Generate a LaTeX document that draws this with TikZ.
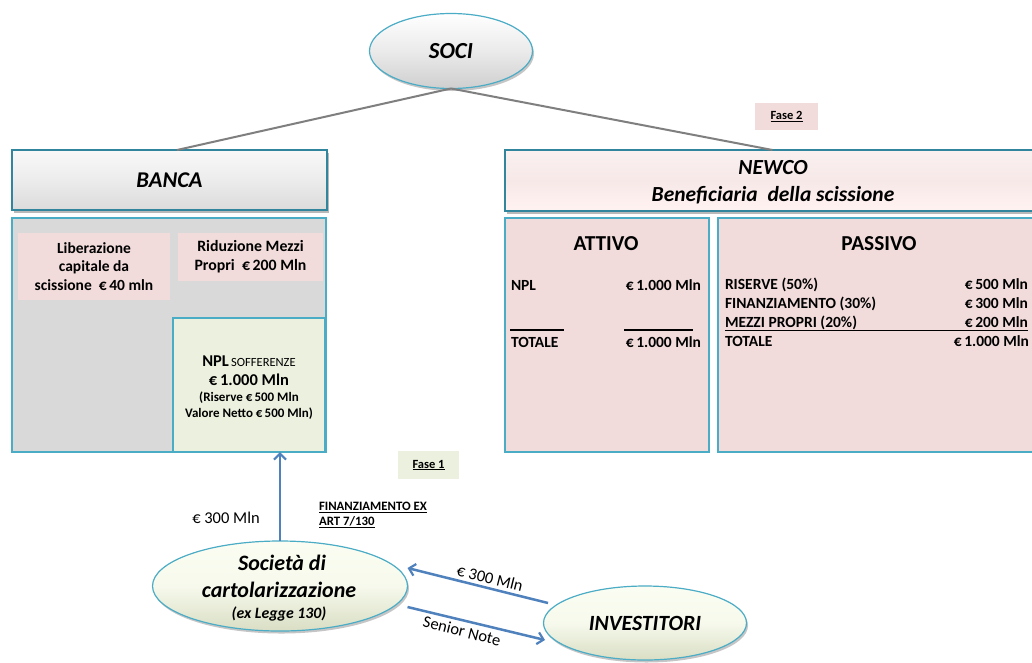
\documentclass[tikz,border=0pt]{standalone}
\usepackage{fontspec}
\setmainfont{Carlito}
\usetikzlibrary{shapes.geometric,shadows,arrows.meta}
\definecolor{teal}{HTML}{4BACC6}
\definecolor{tealdark}{HTML}{31859C}
\definecolor{graybox}{HTML}{D9D9D9}
\definecolor{pinkbox}{HTML}{F2DCDB}
\definecolor{greenbox}{HTML}{EBF1DE}
\definecolor{creamlight}{HTML}{FBFDF2}
\definecolor{creamdark}{HTML}{D9DEC4}
\definecolor{linkgray}{HTML}{7F7F7F}
\definecolor{arrowblue}{HTML}{4F81BD}
\begin{document}
\begin{tikzpicture}[x=1pt,y=-1pt,
  every node/.style={inner sep=0pt,outer sep=0pt},
  header/.style={draw=tealdark,line width=1.2pt,anchor=north west,
    drop shadow={shadow xshift=2pt,shadow yshift=-2.5pt,opacity=0.55}},
  panel/.style={draw=teal,line width=1.2pt,anchor=north west},
  tile/.style={anchor=north west,align=center},
  oval/.style={ellipse,draw=teal,line width=1.2pt,
    drop shadow={shadow xshift=1.5pt,shadow yshift=-2.5pt,opacity=0.45}},
  creamoval/.style={oval,top color=creamlight,bottom color=creamdark,middle color=creamlight!70!greenbox},
  soclink/.style={draw=linkgray,line width=2pt},
  flow/.style={draw=arrowblue,line width=2.5pt,-{Straight Barb[length=6pt,width=12pt,line width=2.2pt]}},
  flowlabel/.style={font=\fontsize{16.5}{19}\selectfont},
  rowtxt/.style={font=\bfseries\fontsize{15.5}{18}\selectfont},
  bi/.style={font=\bfseries\itshape\fontsize{#1}{#1}\selectfont},
  fase/.style={anchor=north west,font=\bfseries\fontsize{12.5}{14}\selectfont}]
\path[use as bounding box,clip] (0,0) rectangle (1032,662);
\fill[white] (0,0) rectangle (1032,662);

% SOCI
\node[oval,minimum width=163pt,minimum height=75pt,
  top color=white,bottom color=gray!38,middle color=gray!16,bi=23] (soci) at (451,51) {SOCI};

% Headers
\node[header,minimum width=315pt,minimum height=60pt,
  top color=white!95!gray,bottom color=gray!28,middle color=gray!15,bi=22.5] (banca) at (12,150) {BANCA};
\node[header,minimum width=535pt,minimum height=61pt,
  top color=pinkbox!40,bottom color=pinkbox!110!black!95,middle color=pinkbox!65] (newco) at (505,150) {};
\node[anchor=base,bi=21.5] (newco1) at (773,174) {NEWCO};
\node[anchor=base,bi=21.5] (newco2) at (773,201) {Beneficiaria\ \ della scissione};

% Links from SOCI
\draw[soclink] (soci.south) -- ([xshift=7.5pt]banca.north);
\draw[soclink] (soci.south) -- (newco.north);

% BANCA panel
\node[panel,fill=graybox,minimum width=314pt,minimum height=234pt] (bancapanel) at (12,218) {};
\node[tile,fill=pinkbox,minimum width=152pt,minimum height=67pt,
  font=\bfseries\fontsize{15.5}{18.5}\selectfont] (liber) at (18,233)
  {Liberazione\\capitale da\\scissione\ \ €\,40 mln};
\node[tile,fill=pinkbox,minimum width=145pt,minimum height=48pt,
  font=\bfseries\fontsize{15.8}{19}\selectfont] (ridu) at (178,233)
  {Riduzione Mezzi\\Propri\ \ €\,200 Mln};
\node[panel,fill=greenbox,minimum width=152pt,minimum height=134pt] (npl) at (173,318) {};
\node[anchor=base] (npl1) at (249,366)
  {{\bfseries\fontsize{16.5}{18}\selectfont NPL} {\fontsize{12.5}{14}\selectfont SOFFERENZE}};
\node[anchor=base,font=\bfseries\fontsize{16.5}{18}\selectfont] (npl2) at (249,385) {€\,1.000 Mln};
\node[anchor=base,font=\bfseries\fontsize{13}{15}\selectfont] (npl3) at (249,401) {(Riserve €\,500 Mln};
\node[anchor=base,font=\bfseries\fontsize{13}{15}\selectfont] (npl4) at (249,417) {Valore Netto €\,500 Mln)};

% NEWCO panels
\node[panel,fill=pinkbox,minimum width=204pt,minimum height=234pt] (attivo) at (505,218) {};
\node[panel,fill=pinkbox,minimum width=330pt,minimum height=234pt] (passivo) at (718,218) {};
\node[anchor=base,font=\bfseries\fontsize{21.3}{23}\selectfont] (attivot) at (606,250) {ATTIVO};
\node[anchor=base,font=\bfseries\fontsize{21.3}{23}\selectfont] (passivot) at (879,250) {PASSIVO};

\node[anchor=base west,rowtxt] (a1l) at (511,290) {NPL};
\node[anchor=base east,rowtxt] (a1r) at (701,290) {€\,1.000 Mln};
\node[anchor=base west,rowtxt] (a2l) at (511,347) {TOTALE};
\node[anchor=base east,rowtxt] (a2r) at (701,347) {€\,1.000 Mln};
\coordinate (u1a) at (510,330); \coordinate (u1b) at (564,330);
\coordinate (u2a) at (624,330); \coordinate (u2b) at (693,330);
\draw[line width=1.1pt] (u1a) -- (u1b);
\draw[line width=1.1pt] (u2a) -- (u2b);

\node[anchor=base west,rowtxt] (p1l) at (725,289) {RISERVE (50\%)};
\node[anchor=base east,rowtxt] (p1r) at (1028,289) {€\,500 Mln};
\node[anchor=base west,rowtxt] (p2l) at (725,308) {FINANZIAMENTO (30\%)};
\node[anchor=base east,rowtxt] (p2r) at (1028,308) {€\,300 Mln};
\node[anchor=base west,rowtxt] (p3l) at (725,327) {MEZZI PROPRI (20\%)};
\node[anchor=base east,rowtxt] (p3r) at (1028,327) {€\,200 Mln};
\node[anchor=base west,rowtxt] (p4l) at (725,346) {TOTALE};
\node[anchor=base east,rowtxt] (p4r) at (1029,346) {€\,1.000 Mln};
\coordinate (u3a) at (725,330.5); \coordinate (u3b) at (1028,330.5);
\draw[line width=1.1pt] (u3a) -- (u3b);

% Fase labels
\node[fase,fill=pinkbox,minimum width=63pt,minimum height=27pt] (fase2) at (755,103) {\underline{Fase 2}};
\node[fase,fill=greenbox,minimum width=61pt,minimum height=28pt] (fase1) at (398,451) {\underline{Fase 1}};

% Ellipses bottom
\node[creamoval,minimum width=255pt,minimum height=90pt] (sc) at (280,586) {};
\node[anchor=base,bi=22] (sc1) at (282,570) {Società di};
\node[anchor=base,bi=22] (sc2) at (279,597) {cartolarizzazione};
\node[anchor=base,bi=15.8] (sc3) at (279,618) {(ex Legge 130)};
\node[creamoval,minimum width=203pt,minimum height=74pt,bi=21.7] (inv) at (645,623) {INVESTITORI};

% Flows
\draw[flow] (sc.north) -- (sc.north |- npl.south);
\node[flowlabel] (lab300a) at (226,518) {€ 300 Mln};
\node[anchor=north west,align=left,font=\bfseries\fontsize{12.8}{15}\selectfont] (finlab) at (319,502)
  {\underline{FINANZIAMENTO EX}\\\underline{ART 7/130}};

\draw[flow] ([xshift=4.5pt,yshift=20pt]inv.west) -- ([yshift=18pt]sc.east);
\draw[flow] ([yshift=-21pt]sc.east) -- ([xshift=1.5pt,yshift=-17pt]inv.west);
\node[flowlabel,rotate=-14] (lab300b) at (490,578) {€ 300 Mln};
\node[flowlabel,rotate=-14] (labsen) at (462,631) {Senior Note};
\end{tikzpicture}
\end{document}
